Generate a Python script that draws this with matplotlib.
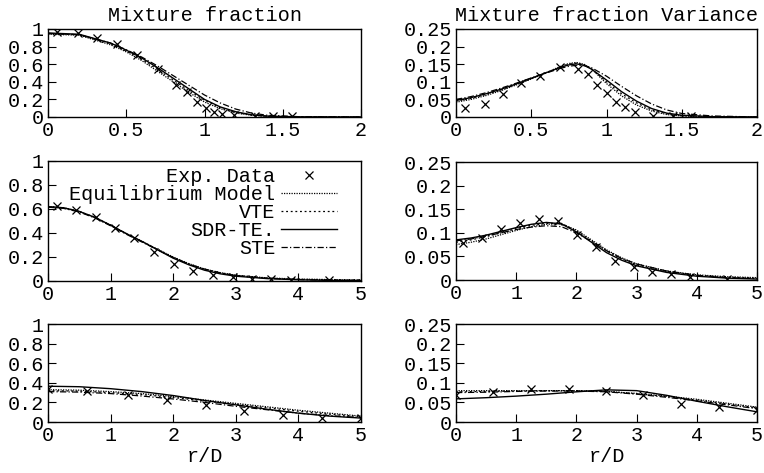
import numpy as np
import matplotlib
matplotlib.use("Agg")
import matplotlib.pyplot as plt

plt.rcParams['font.family'] = ['Liberation Mono', 'DejaVu Sans Mono']
plt.rcParams['font.size'] = 14.5

# ---- top row: r/D 0..2 ----
r_top = [0, 0.2, 0.4, 0.5, 0.6, 0.7, 0.8, 0.9, 1.0, 1.1, 1.2, 1.3, 1.4, 1.6, 2.0]
zm_top_eq = [0.94, 0.93, 0.82, 0.74, 0.64, 0.52, 0.40, 0.28, 0.17, 0.095, 0.045, 0.02, 0.008, 0.001, 0.0]
zm_top_vte = [0.945, 0.935, 0.83, 0.75, 0.655, 0.54, 0.42, 0.30, 0.19, 0.105, 0.05, 0.022, 0.009, 0.001, 0.0]
zm_top_sdr = [0.955, 0.94, 0.84, 0.76, 0.67, 0.56, 0.44, 0.32, 0.20, 0.115, 0.06, 0.025, 0.01, 0.002, 0.0]
zm_top_ste = [0.95, 0.935, 0.84, 0.765, 0.68, 0.58, 0.47, 0.36, 0.25, 0.16, 0.09, 0.045, 0.02, 0.004, 0.0]
zm_top_exp_r = [0.06, 0.19, 0.31, 0.44, 0.57, 0.70, 0.82, 0.89, 0.95, 1.01, 1.06, 1.11, 1.19, 1.32, 1.44, 1.56]
zm_top_exp = [0.97, 0.955, 0.895, 0.825, 0.70, 0.545, 0.36, 0.28, 0.175, 0.105, 0.053, 0.03, 0.022, 0.008, 0.006, 0.006]

r_top_v = [0, 0.1, 0.2, 0.3, 0.4, 0.5, 0.6, 0.7, 0.75, 0.8, 0.85, 0.9, 1.0, 1.1, 1.2, 1.3, 1.4, 1.5, 1.7, 2.0]
zv_top_eq = [0.042, 0.05, 0.061, 0.075, 0.091, 0.108, 0.126, 0.145, 0.152, 0.155, 0.15, 0.137, 0.095, 0.06, 0.034, 0.017, 0.007, 0.003, 0.0, 0.0]
zv_top_vte = [0.045, 0.053, 0.064, 0.077, 0.093, 0.109, 0.126, 0.143, 0.15, 0.153, 0.149, 0.137, 0.10, 0.066, 0.04, 0.02, 0.009, 0.004, 0.001, 0.0]
zv_top_sdr = [0.047, 0.055, 0.066, 0.079, 0.094, 0.11, 0.126, 0.142, 0.148, 0.151, 0.147, 0.136, 0.105, 0.072, 0.045, 0.024, 0.011, 0.005, 0.001, 0.0]
zv_top_ste = [0.05, 0.058, 0.069, 0.082, 0.096, 0.111, 0.125, 0.139, 0.144, 0.147, 0.146, 0.14, 0.116, 0.087, 0.06, 0.037, 0.02, 0.01, 0.003, 0.0]
zv_top_exp_r = [0.06, 0.19, 0.31, 0.43, 0.56, 0.69, 0.81, 0.88, 0.94, 1.0, 1.06, 1.12, 1.19, 1.31, 1.44, 1.56]
zv_top_exp = [0.025, 0.038, 0.065, 0.098, 0.117, 0.142, 0.135, 0.121, 0.091, 0.069, 0.044, 0.027, 0.013, 0.004, 0.002, 0.002]

# ---- middle row (r/D 0..5) ----
r_mid = [0, 0.25, 0.5, 0.75, 1.0, 1.25, 1.5, 1.75, 2.0, 2.25, 2.5, 2.75, 3.0, 3.5, 4.0, 4.5, 5.0]
zm_mid_eq = [0.62, 0.61, 0.58, 0.53, 0.465, 0.395, 0.33, 0.265, 0.20, 0.145, 0.10, 0.07, 0.048, 0.026, 0.016, 0.012, 0.01]
zm_mid_vte = [0.62, 0.61, 0.58, 0.53, 0.465, 0.395, 0.33, 0.263, 0.198, 0.142, 0.098, 0.068, 0.046, 0.024, 0.014, 0.011, 0.009]
zm_mid_sdr = [0.62, 0.61, 0.58, 0.53, 0.465, 0.395, 0.33, 0.26, 0.19, 0.135, 0.09, 0.06, 0.04, 0.02, 0.01, 0.005, 0.003]
zm_mid_ste = [0.615, 0.605, 0.575, 0.525, 0.46, 0.39, 0.325, 0.26, 0.195, 0.14, 0.10, 0.068, 0.045, 0.022, 0.012, 0.007, 0.004]
zm_mid_exp_r = [0.14, 0.44, 0.76, 1.07, 1.38, 1.70, 2.01, 2.32, 2.64, 2.96, 3.26, 3.57, 3.88, 4.49]
zm_mid_exp = [0.628, 0.594, 0.53, 0.44, 0.358, 0.24, 0.142, 0.08, 0.047, 0.03, 0.019, 0.014, 0.012, 0.008]

zv_mid_eq = [0.075, 0.08, 0.087, 0.096, 0.105, 0.113, 0.118, 0.119, 0.106, 0.085, 0.064, 0.047, 0.034, 0.019, 0.011, 0.007, 0.005]
zv_mid_vte = [0.08, 0.085, 0.092, 0.10, 0.109, 0.116, 0.12, 0.12, 0.104, 0.083, 0.062, 0.045, 0.032, 0.018, 0.01, 0.006, 0.004]
zv_mid_sdr = [0.085, 0.089, 0.095, 0.103, 0.111, 0.118, 0.122, 0.119, 0.102, 0.08, 0.058, 0.042, 0.03, 0.016, 0.008, 0.004, 0.002]
zv_mid_ste = [0.083, 0.087, 0.093, 0.10, 0.107, 0.112, 0.115, 0.113, 0.10, 0.082, 0.062, 0.046, 0.034, 0.019, 0.01, 0.005, 0.003]
zv_mid_exp_r = [0.11, 0.43, 0.75, 1.07, 1.38, 1.69, 2.01, 2.33, 2.64, 2.95, 3.26, 3.57, 3.88, 4.50]
zv_mid_exp = [0.078, 0.09, 0.107, 0.121, 0.129, 0.124, 0.095, 0.069, 0.041, 0.028, 0.018, 0.013, 0.007, 0.003]

# ---- bottom row (r/D 0..5) ----
r_bot = [0, 0.5, 1.0, 1.5, 2.0, 2.5, 3.0, 3.5, 4.0, 4.5, 5.0]
zm_bot_eq = [0.33, 0.325, 0.31, 0.29, 0.26, 0.225, 0.19, 0.155, 0.12, 0.09, 0.06]
zm_bot_vte = [0.32, 0.315, 0.30, 0.28, 0.25, 0.215, 0.18, 0.145, 0.11, 0.08, 0.055]
zm_bot_sdr = [0.365, 0.36, 0.34, 0.31, 0.27, 0.22, 0.175, 0.13, 0.09, 0.06, 0.04]
zm_bot_ste = [0.31, 0.305, 0.29, 0.265, 0.235, 0.20, 0.16, 0.125, 0.09, 0.065, 0.045]
zm_bot_exp_r = [0.0, 0.63, 1.27, 1.90, 2.52, 3.13, 3.76, 4.38, 5.0]
zm_bot_exp = [0.335, 0.315, 0.275, 0.228, 0.172, 0.115, 0.07, 0.045, 0.036]

zv_bot_eq = [0.08, 0.08, 0.08, 0.08, 0.08, 0.078, 0.073, 0.066, 0.058, 0.048, 0.038]
zv_bot_vte = [0.077, 0.078, 0.079, 0.08, 0.08, 0.078, 0.072, 0.065, 0.056, 0.046, 0.036]
zv_bot_sdr = [0.059, 0.062, 0.066, 0.071, 0.077, 0.082, 0.08, 0.068, 0.053, 0.039, 0.026]
zv_bot_ste = [0.075, 0.076, 0.078, 0.079, 0.079, 0.077, 0.071, 0.063, 0.054, 0.044, 0.034]
zv_bot_exp_r = [0.0, 0.62, 1.25, 1.88, 2.49, 3.11, 3.74, 4.37, 5.0]
zv_bot_exp = [0.068, 0.076, 0.083, 0.085, 0.08, 0.068, 0.047, 0.038, 0.03]

labels = ["Exp. Data", "Equilibrium Model", "VTE", "SDR-TE.", "STE"]
mean_yticks = [0, 0.2, 0.4, 0.6, 0.8, 1.0]
mean_yticklabels = ["0", "0.2", "0.4", "0.6", "0.8", "1"]
var_yticks = [0, 0.05, 0.1, 0.15, 0.2, 0.25]
var_yticklabels = ["0", "0.05", "0.1", "0.15", "0.2", "0.25"]

styles = {
    "eq": dict(color="black", lw=0.9, ls=(0, (1, 1))),
    "vte": dict(color="black", lw=0.9, ls=(0, (1.5, 2.2))),
    "sdr": dict(color="black", lw=1.0, ls="-"),
    "ste": dict(color="black", lw=0.9, ls=(0, (5, 1.8, 1, 1.8))),
}


def panel(ax, r, eq, vte, sdr, ste, er, ev):
    ax.plot(er, ev, ls="none", marker="x", ms=6, mew=0.9, color="black", label=labels[0])
    ax.plot(r, eq, label=labels[1], **styles["eq"])
    ax.plot(r, vte, label=labels[2], **styles["vte"])
    ax.plot(r, sdr, label=labels[3], **styles["sdr"])
    ax.plot(r, ste, label=labels[4], **styles["ste"])
    ax.tick_params(direction="in", length=6, width=0.8, top=False, right=False)
    ax.tick_params(axis="x", pad=3)
    ax.tick_params(axis="y", pad=3)
    for s in ax.spines.values():
        s.set_linewidth(1.0)


fig = plt.figure(figsize=(7.64, 4.73), dpi=100)
H = 473.0
W = 764.0


def add(x0, x1, y0, y1):
    return fig.add_axes([x0 / W, 1 - y1 / H, (x1 - x0) / W, (y1 - y0) / H])


ax1 = add(48, 361, 29, 117)
ax2 = add(456, 757, 29, 117)
ax3 = add(48, 361, 161, 281)
ax4 = add(456, 757, 162, 280)
ax5 = add(48, 361, 324, 422)
ax6 = add(456, 757, 324, 422)

panel(ax1, r_top, zm_top_eq, zm_top_vte, zm_top_sdr, zm_top_ste, zm_top_exp_r, zm_top_exp)
panel(ax2, r_top_v, zv_top_eq, zv_top_vte, zv_top_sdr, zv_top_ste, zv_top_exp_r, zv_top_exp)
panel(ax3, r_mid, zm_mid_eq, zm_mid_vte, zm_mid_sdr, zm_mid_ste, zm_mid_exp_r, zm_mid_exp)
panel(ax4, r_mid, zv_mid_eq, zv_mid_vte, zv_mid_sdr, zv_mid_ste, zv_mid_exp_r, zv_mid_exp)
panel(ax5, r_bot, zm_bot_eq, zm_bot_vte, zm_bot_sdr, zm_bot_ste, zm_bot_exp_r, zm_bot_exp)
panel(ax6, r_bot, zv_bot_eq, zv_bot_vte, zv_bot_sdr, zv_bot_ste, zv_bot_exp_r, zv_bot_exp)

for ax in (ax1, ax3, ax5):
    ax.set_ylim(0, 1)
    ax.set_yticks(mean_yticks)
    ax.set_yticklabels(mean_yticklabels)
for ax in (ax2, ax4, ax6):
    ax.set_ylim(0, 0.25)
    ax.set_yticks(var_yticks)
    ax.set_yticklabels(var_yticklabels)
for ax in (ax1, ax2):
    ax.set_xlim(0, 2)
    ax.set_xticks([0, 0.5, 1, 1.5, 2])
    ax.set_xticklabels(["0", "0.5", "1", "1.5", "2"])
for ax in (ax3, ax4, ax5, ax6):
    ax.set_xlim(0, 5)
    ax.set_xticks([0, 1, 2, 3, 4, 5])
    ax.set_xticklabels(["0", "1", "2", "3", "4", "5"])

ax1.set_title("Mixture fraction", pad=6, fontsize=14.5)
ax2.set_title("Mixture fraction Variance", pad=6, fontsize=14.5)
ax5.set_xlabel("r/D", labelpad=1)
ax6.set_xlabel("r/D", labelpad=1)

ax3.legend(loc="upper right", bbox_to_anchor=(0.923, 0.95), frameon=False,
           markerfirst=False, handlelength=2.8, handletextpad=0.25,
           labelspacing=-0.05, borderpad=0, borderaxespad=0, numpoints=1)

fig.savefig("out.png", dpi=100)
